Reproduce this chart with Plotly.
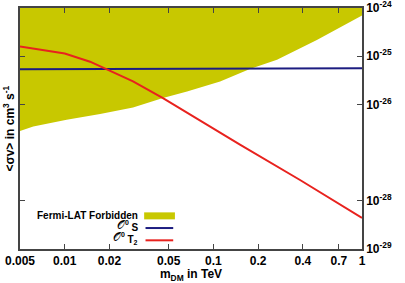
import plotly.graph_objects as go

# ---- data ----
fermi_mass = [0.005, 0.00614, 0.0103, 0.0173, 0.0288, 0.0458, 0.0665, 0.111, 0.176, 0.268, 0.497, 1.0]
fermi_sigv = [2.8e-27, 3.5e-27, 4.8e-27, 6.3e-27, 8.6e-27, 1.35e-26, 1.85e-26, 2.98e-26, 5.46e-26, 8.4e-26, 2.17e-25, 7.0e-25]
fermi_top = 1e-24

os_mass = [0.005, 0.05, 0.2, 1.0]
os_sigv = [5.37e-26, 5.45e-26, 5.55e-26, 5.65e-26]

ot2_mass = [0.005, 0.01, 0.0148, 0.0187, 0.0288, 0.0458, 0.151, 0.383, 1.0]
ot2_sigv = [1.59e-25, 1.14e-25, 7.7e-26, 5.6e-26, 3.0e-26, 1.35e-26, 1.46e-27, 2.7e-28, 4.4e-29]

x_ticks = [0.005, 0.01, 0.02, 0.05, 0.1, 0.2, 0.4, 0.7, 1]
x_ticktext = ["0.005", "0.01", "0.02", "0.05", "0.1", "0.2", "0.4", "0.7", "1"]
y_ticks = [1e-24, 1e-25, 1e-26, 1e-28, 1e-29]
y_ticktext = ["10<sup>-24</sup>", "10<sup>-25</sup>", "10<sup>-26</sup>", "10<sup>-28</sup>", "10<sup>-29</sup>"]

YELLOW = "#c8c800"
BLUE = "#1c1c80"
RED = "#e8221e"
FONT = "Liberation Sans, Arial, sans-serif"

fig = go.Figure()
poly_x = fermi_mass + [fermi_mass[-1], fermi_mass[0]]
poly_y = fermi_sigv + [fermi_top, fermi_top]
fig.add_trace(go.Scatter(x=poly_x, y=poly_y, fill="toself", fillcolor=YELLOW,
                         line=dict(width=0), mode="lines", hoverinfo="skip", showlegend=False))
fig.add_trace(go.Scatter(x=os_mass, y=os_sigv, mode="lines", line=dict(color=BLUE, width=2), showlegend=False))
fig.add_trace(go.Scatter(x=ot2_mass, y=ot2_sigv, mode="lines", line=dict(color=RED, width=2), showlegend=False))

axis_common = dict(showgrid=False, zeroline=False, showline=True, linecolor="#444", linewidth=1.5,
                   ticks="inside", ticklen=5, tickcolor="#444", mirror="ticks", automargin=False,
                   ticklabeloverflow="allow",
                   tickfont=dict(family=FONT, size=12, color="black", weight="bold"))

fig.update_layout(
    width=405, height=283,
    margin=dict(l=20, r=43, t=8, b=34),
    paper_bgcolor="white", plot_bgcolor="white",
    xaxis=dict(type="log", range=[-2.30113, 0.0001], tickvals=x_ticks, ticktext=x_ticktext,
               title=dict(text="m<sub>DM</sub> in TeV", standoff=0,
                          font=dict(family=FONT, size=12, color="black", weight="bold")),
               **axis_common),
    yaxis=dict(type="log", range=[-29.0005, -23.9995], side="right", tickvals=y_ticks, ticktext=y_ticktext,
               **axis_common),
    font=dict(family=FONT, color="black"),
)

# y-axis title on the left
fig.add_annotation(text="<σv> in cm<sup>3</sup> s<sup>-1</sup>", textangle=-90, xref="paper", yref="paper",
                   x=-0.035, y=0.5, xanchor="center", yanchor="middle", showarrow=False,
                   font=dict(family=FONT, size=12, color="black", weight="bold"))

# custom legend (text left of sample, like the reference)
leg_font = dict(family=FONT, size=10, color="black", weight="bold")
O = "<span style='font-family:DejaVu Sans;font-weight:normal;font-size:12px'>𝒪</span>"
fig.add_annotation(text="Fermi-LAT Forbidden", xref="paper", yref="paper", x=0.351, y=0.141,
                   xanchor="right", yanchor="middle", showarrow=False, font=leg_font)
fig.add_annotation(text=O + "<sup>0</sup><span style='font-size:9px'> </span><sub><span style='font-size:10px'>S</span></sub>",
                   xref="paper", yref="paper", x=0.351, y=0.097,
                   xanchor="right", yanchor="middle", showarrow=False, font=leg_font)
fig.add_annotation(text=O + "<sup>0</sup><span style='font-size:9px'> </span><sub><span style='font-size:10px'>T<sub>2</sub></span></sub>",
                   xref="paper", yref="paper", x=0.351, y=0.045,
                   xanchor="right", yanchor="middle", showarrow=False, font=leg_font)
fig.add_shape(type="rect", xref="paper", yref="paper", x0=0.363, x1=0.453, y0=0.123, y1=0.152,
              fillcolor=YELLOW, line=dict(width=0))
fig.add_shape(type="line", xref="paper", yref="paper", x0=0.367, x1=0.448, y0=0.087, y1=0.087,
              line=dict(color=BLUE, width=2))
fig.add_shape(type="line", xref="paper", yref="paper", x0=0.367, x1=0.448, y0=0.036, y1=0.036,
              line=dict(color=RED, width=2))

fig.write_html("out.html", config={"displayModeBar": False},
               post_script="document.body.style.margin='0';document.body.style.padding='0';")
